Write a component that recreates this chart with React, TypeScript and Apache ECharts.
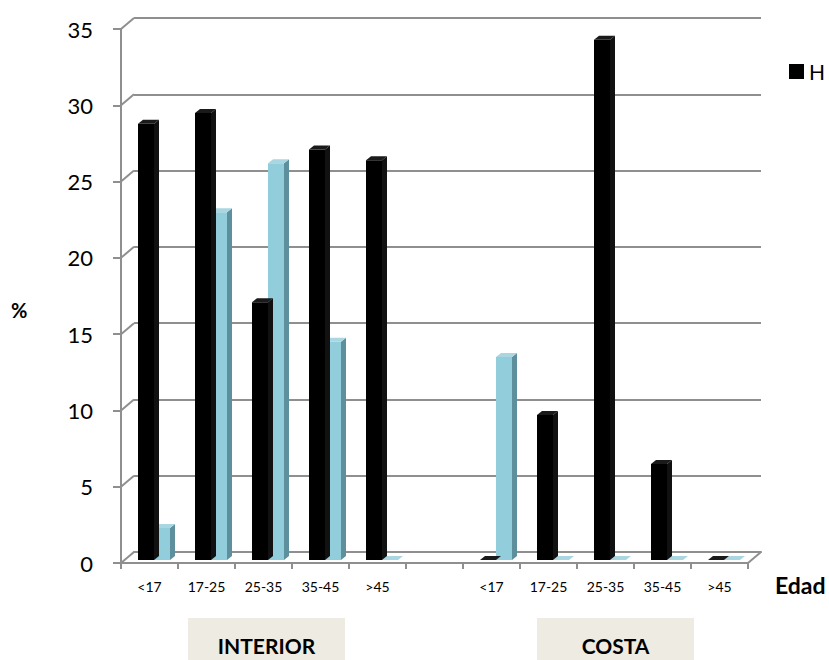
import React, { useEffect, useRef } from "react";
import * as echarts from "echarts";

const categories = ["<17", "17-25", "25-35", "35-45", ">45", "", "<17", "17-25", "25-35", "35-45", ">45"];
const hValues: (number | null)[] = [28.6, 29.3, 16.9, 26.9, 26.2, null, 0, 9.5, 34.1, 6.3, 0];
const mValues: (number | null)[] = [2.1, 22.8, 26.0, 14.3, 0, null, 13.3, 0, 0, 0, 0];
const yTickValues = [0, 5, 10, 15, 20, 25, 30, 35];
const groupLabels = ["INTERIOR", "COSTA"];
const seriesNames = ["H", "M"];

const FONT = "Lato, 'Liberation Sans', sans-serif";
const GRID_COLOR = "#8f8f8f";
const DEPTH_X = 13;
const DEPTH_Y = 11;
const BAR_W = 16;
const SIDE_X = 5;
const SIDE_Y = 4;
const BASE_LIFT = 3;

function barRenderer(offset: number, front: string, side: string, top: string) {
  return (params: any, api: any) => {
    const cat = api.value(0);
    const val = api.value(1);
    const b = api.coord([cat, 0]);
    const t = api.coord([cat, val]);
    const x0 = b[0] + offset;
    const x1 = x0 + BAR_W;
    const yb = b[1] - BASE_LIFT;
    const yt = t[1] - BASE_LIFT;
    return {
      type: "group",
      children: [
        {
          type: "polygon",
          shape: { points: [[x1, yb], [x1 + SIDE_X, yb - SIDE_Y], [x1 + SIDE_X, yt - SIDE_Y], [x1, yt]] },
          style: { fill: side },
        },
        {
          type: "polygon",
          shape: { points: [[x0, yb], [x1, yb], [x1, yt], [x0, yt]] },
          style: { fill: front },
        },
        {
          type: "polygon",
          shape: { points: [[x0, yt], [x1, yt], [x1 + SIDE_X, yt - SIDE_Y], [x0 + SIDE_X, yt - SIDE_Y]] },
          style: { fill: top },
        },
      ],
    };
  };
}

function connectorRenderer(params: any, api: any) {
  const cs = params.coordSys;
  const v = api.value(1);
  const y = api.coord([0, v])[1];
  const children: any[] = [
    {
      type: "line",
      shape: { x1: cs.x, y1: y, x2: cs.x + DEPTH_X, y2: y - DEPTH_Y },
      style: { stroke: GRID_COLOR, lineWidth: 2 },
    },
  ];
  if (v === 0) {
    children.push({
      type: "line",
      shape: { x1: cs.x + cs.width, y1: y, x2: cs.x + cs.width + DEPTH_X, y2: y - DEPTH_Y },
      style: { stroke: GRID_COLOR, lineWidth: 2 },
    });
  }
  return { type: "group", children };
}

export default function App() {
  const ref = useRef<HTMLDivElement>(null);
  useEffect(() => {
    if (!ref.current) return;
    const chart = echarts.init(ref.current, undefined, { renderer: "svg" });
    const toData = (arr: (number | null)[]) =>
      arr.map((v, i) => (v === null ? null : [i, v])).filter((d) => d !== null);
    chart.setOption({
      animation: false,
      backgroundColor: "#ffffff",
      textStyle: { fontFamily: FONT },
      legend: {
        data: [{ name: seriesNames[0], icon: "rect" }],
        left: 784,
        top: 56,
        itemWidth: 15,
        itemHeight: 15,
        itemGap: 6,
        textStyle: { fontSize: 21, color: "#000", fontFamily: FONT },
      },
      grid: [
        { left: 121, right: 81, top: 29, bottom: 97 },
        { left: 134, right: 68, top: 18, bottom: 108 },
      ],
      xAxis: [
        {
          type: "category",
          gridIndex: 0,
          data: categories,
          axisLine: { show: true, lineStyle: { color: GRID_COLOR, width: 2 } },
          axisTick: { show: true, length: 6, lineStyle: { color: GRID_COLOR, width: 2 } },
          axisLabel: { fontSize: 14, color: "#000", margin: 16, fontFamily: FONT, interval: 0 },
          splitLine: { show: false },
        },
        {
          type: "category",
          gridIndex: 1,
          data: categories,
          axisLine: { show: true, lineStyle: { color: GRID_COLOR, width: 2 } },
          axisTick: { show: false },
          axisLabel: { show: false },
          splitLine: { show: false },
        },
      ],
      yAxis: [
        {
          type: "value",
          gridIndex: 0,
          min: 0,
          max: 35,
          interval: 5,
          axisLine: { show: true, lineStyle: { color: GRID_COLOR, width: 2 } },
          axisTick: { show: true, length: 8, lineStyle: { color: GRID_COLOR, width: 2 } },
          axisLabel: { fontSize: 22, color: "#000", margin: 28, fontFamily: FONT },
          splitLine: { show: false },
        },
        {
          type: "value",
          gridIndex: 1,
          min: 0,
          max: 35,
          interval: 5,
          axisLine: { show: false },
          axisTick: { show: false },
          axisLabel: { show: false },
          splitLine: { show: true, lineStyle: { color: GRID_COLOR, width: 2 } },
        },
      ],
      series: [
        {
          type: "custom",
          name: "connectors",
          xAxisIndex: 0,
          yAxisIndex: 0,
          silent: true,
          data: yTickValues.map((v) => [0, v]),
          renderItem: connectorRenderer,
          z: 1,
        },
        {
          type: "custom",
          name: seriesNames[1],
          xAxisIndex: 0,
          yAxisIndex: 0,
          itemStyle: { color: "#92cddc" },
          data: toData(mValues),
          renderItem: barRenderer(4.5, "#92cddc", "#5e8f9c", "#a9d6e1"),
          z: 3,
        },
        {
          type: "custom",
          name: seriesNames[0],
          xAxisIndex: 0,
          yAxisIndex: 0,
          itemStyle: { color: "#000000" },
          data: toData(hValues),
          renderItem: barRenderer(-11.5, "#000000", "#111111", "#1a1a1a"),
          z: 4,
        },
      ],
      graphic: [
        {
          type: "text",
          left: 11,
          top: 300,
          style: { text: "%", font: `bold 20px ${FONT}`, fill: "#000" },
        },
        {
          type: "text",
          left: 775,
          top: 573,
          style: { text: "Edad", font: `bold 23px ${FONT}`, fill: "#000" },
        },
        {
          type: "group",
          left: 188,
          top: 618,
          children: [
            { type: "rect", shape: { x: 0, y: 0, width: 157, height: 46 }, style: { fill: "#eeebe2" } },
            {
              type: "text",
              x: 78.5,
              y: 27,
              style: { text: groupLabels[0], font: `bold 21px ${FONT}`, fill: "#000", align: "center", verticalAlign: "middle" },
            },
          ],
        },
        {
          type: "group",
          left: 537,
          top: 618,
          children: [
            { type: "rect", shape: { x: 0, y: 0, width: 157, height: 46 }, style: { fill: "#eeebe2" } },
            {
              type: "text",
              x: 78.5,
              y: 27,
              style: { text: groupLabels[1], font: `bold 21px ${FONT}`, fill: "#000", align: "center", verticalAlign: "middle" },
            },
          ],
        },
      ],
    });
    return () => chart.dispose();
  }, []);
  return (
    <div
      ref={ref}
      style={{ position: "fixed", left: 0, top: 0, width: 829, height: 660, overflow: "hidden" }}
    />
  );
}
